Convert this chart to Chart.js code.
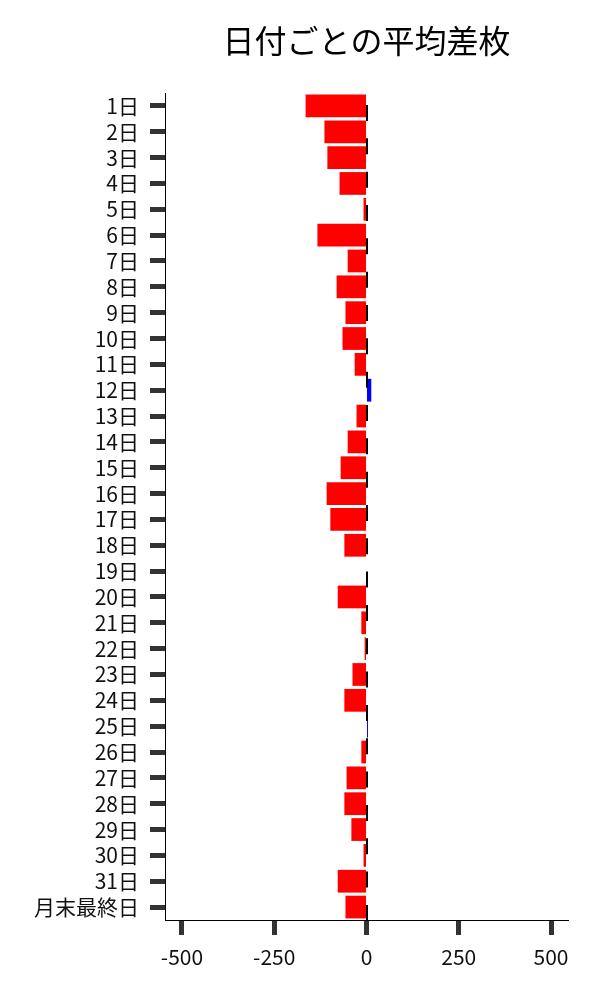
<!DOCTYPE html>
<html>
<head>
<meta charset="utf-8">
<script src="https://cdn.jsdelivr.net/npm/chart.js@4.4.1/dist/chart.umd.min.js"></script>
<style>
html,body{margin:0;padding:0;background:#fff;}
#wrap{width:600px;height:1000px;position:relative;}
</style>
</head>
<body>
<div id="wrap"><canvas id="c" width="600" height="1000"></canvas></div>
<script>
const categories = ["1日","2日","3日","4日","5日","6日","7日","8日","9日","10日","11日","12日","13日","14日","15日","16日","17日","18日","19日","20日","21日","22日","23日","24日","25日","26日","27日","28日","29日","30日","31日","月末最終日"];
const avgDiff = [-165,-114,-106,-73,-8,-133,-51,-81,-57,-65,-32,13,-27,-51,-70,-108,-98,-60,0,-78,-14,-5,-38,-60,4,-14,-54,-60,-41,-8,-78,-57];
const xTicks = [-500,-250,0,250,500];
const titleText = "日付ごとの平均差枚";

const FONT = "'Noto Sans CJK JP', 'Noto Sans', sans-serif";

const zeroLine = {
  id: 'zeroLine',
  afterDatasetsDraw(chart) {
    const {ctx, chartArea} = chart;
    const x = chart.scales.x.getPixelForValue(0);
    ctx.save();
    ctx.strokeStyle = '#000';
    ctx.lineWidth = 2;
    ctx.setLineDash([16, 17.33]);
    ctx.lineDashOffset = 33.33 - (105 - chartArea.top);
    ctx.beginPath();
    ctx.moveTo(x + 0.5, chartArea.top);
    ctx.lineTo(x + 0.5, chartArea.bottom);
    ctx.stroke();
    ctx.restore();
  }
};

new Chart(document.getElementById('c'), {
  type: 'bar',
  data: {
    labels: categories,
    datasets: [{
      data: avgDiff,
      backgroundColor: avgDiff.map(v => v >= 0 ? '#0000ff' : '#ff0000'),
      borderWidth: 0,
      barPercentage: 0.88,
      categoryPercentage: 1.0
    }]
  },
  options: {
    indexAxis: 'y',
    responsive: false,
    animation: false,
    devicePixelRatio: 1,
    layout: { padding: { left: 0, right: 32, top: 0, bottom: 0 } },
    plugins: {
      legend: { display: false },
      tooltip: { enabled: false },
      title: {
        display: true,
        text: titleText,
        fullSize: false,
        color: '#000',
        font: { family: FONT, size: 32, weight: 'normal' },
        padding: { top: 22, bottom: 32.6 }
      }
    },
    scales: {
      x: {
        min: -546,
        max: 546,
        afterBuildTicks(scale) { scale.ticks = xTicks.map(v => ({ value: v })); },
        afterFit(scale) { scale.height = 80; },
        border: { display: true, color: '#000', width: 1 },
        grid: { drawOnChartArea: false, drawTicks: true, tickLength: 15, tickWidth: 5, tickColor: '#333', color: '#333' },
        ticks: { color: '#111', font: { family: FONT, size: 21 }, padding: 9, maxRotation: 0 }
      },
      y: {
        offset: true,
        afterFit(scale) { scale.width = 165; },
        border: { display: true, color: '#000', width: 1 },
        grid: { drawOnChartArea: false, drawTicks: true, tickLength: 15, tickWidth: 5, tickColor: '#333', color: '#333', offset: false },
        ticks: { color: '#111', font: { family: FONT, size: 21 }, padding: 11, autoSkip: false }
      }
    }
  },
  plugins: [zeroLine]
});
</script>
</body>
</html>
